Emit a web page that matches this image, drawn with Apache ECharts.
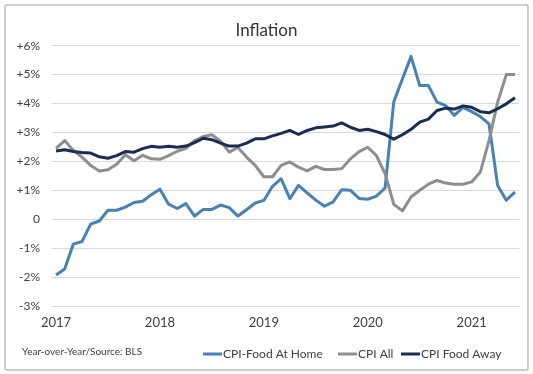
<!DOCTYPE html>
<html>
<head>
<meta charset="utf-8">
<script src="https://cdn.jsdelivr.net/npm/echarts@6/dist/echarts.min.js"></script>
<style>
html,body{margin:0;padding:0;background:#fff;}
#chart{width:533px;height:374px;}
</style>
</head>
<body>
<div id="chart"></div>
<script>
// Monthly categories, Jan 2017 – Jun 2021
const months = [
  "2017-01","2017-02","2017-03","2017-04","2017-05","2017-06","2017-07","2017-08","2017-09","2017-10","2017-11","2017-12",
  "2018-01","2018-02","2018-03","2018-04","2018-05","2018-06","2018-07","2018-08","2018-09","2018-10","2018-11","2018-12",
  "2019-01","2019-02","2019-03","2019-04","2019-05","2019-06","2019-07","2019-08","2019-09","2019-10","2019-11","2019-12",
  "2020-01","2020-02","2020-03","2020-04","2020-05","2020-06","2020-07","2020-08","2020-09","2020-10","2020-11","2020-12",
  "2021-01","2021-02","2021-03","2021-04","2021-05","2021-06"
];
const yearLabels = ["2017","2018","2019","2020","2021"];
const seriesNames = ["CPI-Food At Home","CPI All","CPI Food Away"];

const foodAtHome = [
  -1.93,-1.72,-0.86,-0.77,-0.17,-0.06,0.31,0.31,0.42,0.58,0.62,0.85,
  1.04,0.52,0.37,0.54,0.11,0.34,0.34,0.49,0.40,0.11,0.33,0.56,
  0.65,1.14,1.40,0.71,1.17,0.91,0.66,0.45,0.60,1.02,1.00,0.72,
  0.69,0.80,1.08,4.05,4.85,5.63,4.62,4.62,4.05,3.93,3.59,3.87,
  3.72,3.55,3.30,1.17,0.66,0.94
];
const cpiAll = [
  2.45,2.72,2.38,2.15,1.86,1.67,1.71,1.90,2.23,2.02,2.21,2.09,
  2.07,2.20,2.35,2.45,2.72,2.86,2.92,2.70,2.32,2.48,2.15,1.86,
  1.47,1.47,1.86,1.98,1.80,1.67,1.83,1.72,1.72,1.75,2.09,2.34,
  2.49,2.20,1.58,0.52,0.29,0.77,1.00,1.21,1.34,1.25,1.21,1.21,
  1.29,1.63,2.72,4.05,5.00,5.00
];
const foodAway = [
  2.36,2.40,2.34,2.31,2.29,2.16,2.11,2.20,2.34,2.32,2.44,2.52,
  2.49,2.52,2.49,2.53,2.65,2.80,2.75,2.63,2.53,2.53,2.63,2.78,
  2.78,2.88,2.97,3.07,2.93,3.07,3.16,3.19,3.22,3.33,3.18,3.07,
  3.11,3.03,2.93,2.77,2.92,3.11,3.36,3.46,3.76,3.84,3.81,3.92,
  3.87,3.72,3.68,3.82,3.99,4.20
];
const colors = ["#4682B4","#8E8E8E","#182C55"];
const FONT = "Lato";

const chart = echarts.init(document.getElementById('chart'), null, {renderer:'canvas'});

function legendAt(name, left){
  return {
    data:[name], left:left, top:347, icon:'rect', itemWidth:19, itemHeight:3,
    itemGap:0, padding:0,
    textStyle:{fontFamily:FONT, fontSize:12, color:'#404040', lineHeight:14, padding:[0,0,0,-4]}
  };
}

const option = {
  animation:false,
  backgroundColor:'#fff',
  title:{
    text:'Inflation', left:'center', top:17,
    textStyle:{fontFamily:FONT, fontSize:17, fontWeight:'normal', color:'#333'}
  },
  legend:[ legendAt(seriesNames[0],203), legendAt(seriesNames[1],338), legendAt(seriesNames[2],401) ],
  grid:{left:51.7, right:13.7, top:45.7, bottom:68, containLabel:false},
  xAxis:{
    type:'category', data:months, boundaryGap:true,
    axisLine:{show:false}, axisTick:{show:false}, splitLine:{show:false},
    axisLabel:{
      fontFamily:FONT, fontSize:13, color:'#404040', margin:10,
      interval:function(i){ return i % 12 === 0; },
      formatter:function(v, i){ return yearLabels[Math.floor(i/12)] || ''; }
    }
  },
  yAxis:{
    type:'value', min:-3, max:6, interval:1,
    axisLine:{show:false}, axisTick:{show:false},
    splitLine:{lineStyle:{color:'#D9D9D9', width:1}},
    axisLabel:{
      fontFamily:FONT, fontSize:12, color:'#404040', margin:11.7,
      formatter:function(v){ return v>0 ? '+'+v+'%' : (v===0 ? '0' : v+'%'); }
    }
  },
  graphic:[
    {type:'rect', shape:{x:5,y:5,width:523,height:365,r:2}, style:{fill:'none', stroke:'#BFBFBF', lineWidth:1.5}, silent:true},
    {type:'text', left:22, top:347, style:{text:'Year-over-Year/Source: BLS', fontFamily:FONT, fontSize:10, fill:'#404040'}}
  ],
  series:[
    {name:seriesNames[0], type:'line', data:foodAtHome, showSymbol:false, color:colors[0], lineStyle:{width:3, color:colors[0], join:'round'}},
    {name:seriesNames[1], type:'line', data:cpiAll, showSymbol:false, color:colors[1], lineStyle:{width:3, color:colors[1], join:'round'}},
    {name:seriesNames[2], type:'line', data:foodAway, showSymbol:false, color:colors[2], lineStyle:{width:3, color:colors[2], join:'round'}}
  ]
};
chart.setOption(option);
</script>
</body>
</html>
